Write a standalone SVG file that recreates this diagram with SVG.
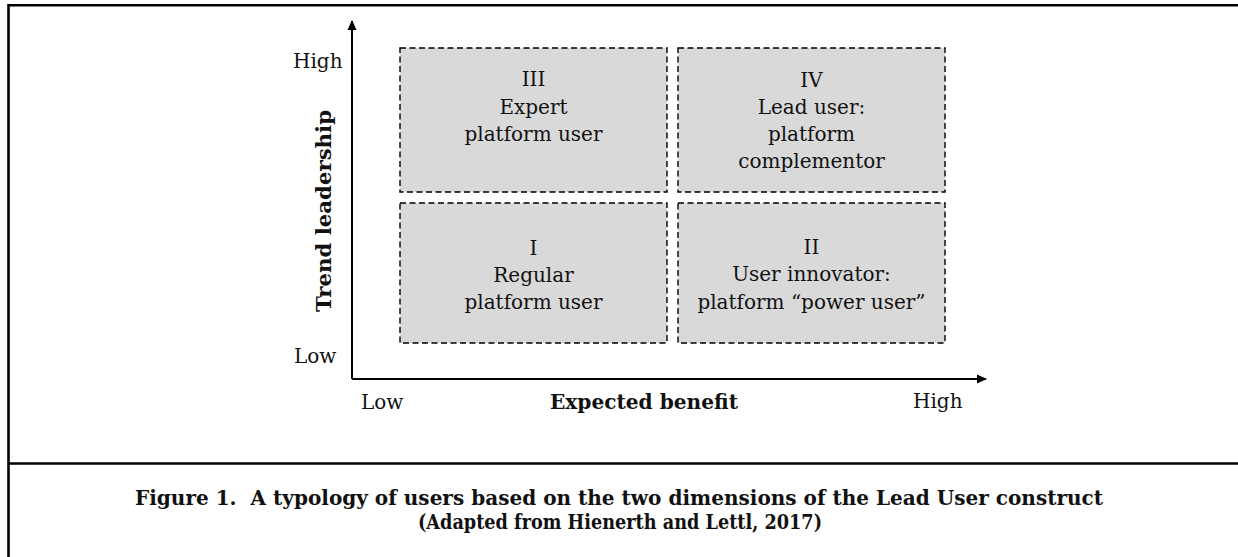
<svg xmlns="http://www.w3.org/2000/svg" width="1238" height="557" viewBox="0 0 1238 557">
<defs>
<style>
.box{fill:#d9d9d9;stroke:#000;stroke-width:1.4;stroke-dasharray:6 3.5}
.t{font-family:"DejaVu Serif","Liberation Serif",serif;font-size:20px;fill:#111;text-anchor:middle}
.ax{font-family:"DejaVu Serif","Liberation Serif",serif;font-size:20px;fill:#111}
.b{font-family:"DejaVu Serif","Liberation Serif",serif;font-weight:bold;fill:#111;white-space:pre}
.axis{stroke:#000;stroke-width:2;fill:none}
</style>
<marker id="arr" viewBox="0 0 10 10" refX="9" refY="5" markerWidth="10" markerHeight="10" markerUnits="userSpaceOnUse" orient="auto">
<path d="M0,0.5 L10,5 L0,9.5 Z" fill="#000"/>
</marker>
</defs>
<rect width="1238" height="557" fill="#fff"/>
<g id="frame">
<path d="M8.5,557 V5.3 H1238" fill="none" stroke="#000" stroke-width="2.6"/>
<path d="M8.5,463.5 H1238" fill="none" stroke="#000" stroke-width="2.6"/>
</g>
<g id="connectors">
<path class="axis" d="M352,379 V21" marker-end="url(#arr)"/>
<path class="axis" d="M352,379 H986" marker-end="url(#arr)"/>
</g>
<g id="q3">
<rect class="box" x="400" y="48" width="267" height="144"/>
<text class="t" x="533.5" y="86">III</text>
<text class="t" x="533.5" y="114">Expert</text>
<text class="t" x="533.5" y="141">platform user</text>
</g>
<g id="q4">
<rect class="box" x="678" y="48" width="267" height="144"/>
<text class="t" x="811.5" y="87">IV</text>
<text class="t" x="811.5" y="114">Lead user:</text>
<text class="t" x="811.5" y="141">platform</text>
<text class="t" x="811.5" y="168">complementor</text>
</g>
<g id="q1">
<rect class="box" x="400" y="203" width="267" height="140"/>
<text class="t" x="533.5" y="255">I</text>
<text class="t" x="533.5" y="282">Regular</text>
<text class="t" x="533.5" y="309">platform user</text>
</g>
<g id="q2">
<rect class="box" x="678" y="203" width="267" height="140"/>
<text class="t" x="811.5" y="254">II</text>
<text class="t" x="811.5" y="281">User innovator:</text>
<text class="t" x="811.5" y="309">platform “power user”</text>
</g>
<g id="labels">
<text class="ax" x="293" y="68">High</text>
<text class="ax" x="294" y="363">Low</text>
<text class="b" font-size="21" transform="translate(331,211) rotate(-90)" text-anchor="middle" textLength="202" lengthAdjust="spacingAndGlyphs">Trend leadership</text>
<text class="ax" x="361" y="409">Low</text>
<text class="b" font-size="20" x="644" y="409" text-anchor="middle" textLength="188" lengthAdjust="spacingAndGlyphs">Expected benefit</text>
<text class="ax" x="913" y="408">High</text>
</g>
<g id="caption">
<text class="b" font-size="20" x="619" y="505" text-anchor="middle" textLength="968" lengthAdjust="spacingAndGlyphs">Figure 1.  A typology of users based on the two dimensions of the Lead User construct</text>
<text class="b" font-size="20" x="620" y="529" text-anchor="middle" textLength="404" lengthAdjust="spacingAndGlyphs">(Adapted from Hienerth and Lettl, 2017)</text>
</g>
</svg>
